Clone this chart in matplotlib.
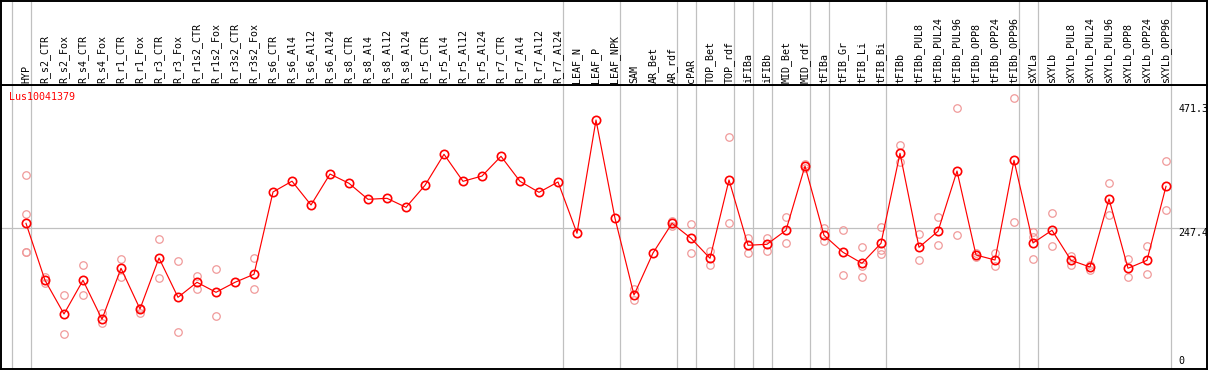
import matplotlib
matplotlib.use("Agg")
import matplotlib.pyplot as plt
import matplotlib.transforms as mtransforms

# ---------------- data ----------------
gene_name = "Lus10041379"

categories = [
    "HYP", "R_s2_CTR", "R_s2_Fox", "R_s4_CTR", "R_s4_Fox", "R_r1_CTR", "R_r1_Fox",
    "R_r3_CTR", "R_r3_Fox", "R_r1s2_CTR", "R_r1s2_Fox", "R_r3s2_CTR", "R_r3s2_Fox",
    "R_s6_CTR", "R_s6_Al4", "R_s6_Al12", "R_s6_Al24", "R_s8_CTR", "R_s8_Al4",
    "R_s8_Al12", "R_s8_Al24", "R_r5_CTR", "R_r5_Al4", "R_r5_Al12", "R_r5_Al24",
    "R_r7_CTR", "R_r7_Al4", "R_r7_Al12", "R_r7_Al24", "LEAF_N", "LEAF_P", "LEAF_NPK",
    "SAM", "AR_Bet", "AR_rdf", "cPAR", "TOP_Bet", "TOP_rdf", "iFIBa", "iFIBb",
    "MID_Bet", "MID_rdf", "tFIBa", "tFIB_Gr", "tFIB_Li", "tFIB_Bi", "tFIBb",
    "tFIBb_PUL8", "tFIBb_PUL24", "tFIBb_PUL96", "tFIBb_OPP8", "tFIBb_OPP24",
    "tFIBb_OPP96", "sXYLa", "sXYLb", "sXYLb_PUL8", "sXYLb_PUL24", "sXYLb_PUL96",
    "sXYLb_OPP8", "sXYLb_OPP24", "sXYLb_OPP96",
]

mean_values = [
    256.7, 154.2, 93.6, 154.2, 84.0, 175.8, 102.6, 194.3, 123.6, 150.6, 132.6,
    150.6, 165.0, 313.1, 332.5, 289.7, 345.4, 328.7, 299.9, 301.7, 285.5, 325.1,
    380.9, 332.3, 341.8, 377.3, 332.3, 312.5, 331.1, 238.8, 442.6, 265.7, 127.7,
    203.3, 256.7, 229.8, 193.8, 334.7, 217.2, 219.0, 244.2, 359.8, 235.2, 204.6,
    184.8, 220.8, 382.7, 213.6, 242.4, 350.8, 199.7, 190.7, 370.1, 221.3, 244.2,
    190.2, 178.1, 300.5, 175.8, 190.2, 323.3,
]

replicate_values = [
    [343.6, 273.0, 205.1, 205.1], [160.7, 148.8], [127.7, 57.6], [181.7, 127.7],
    [94.8, 76.8], [192.0, 159.6], [104.9, 95.9], [228.5, 157.8], [188.4, 61.2],
    [161.9, 139.1], [174.0, 90.0], [], [194.3, 138.0],
    [], [], [], [], [], [], [], [], [], [], [], [], [], [], [], [], [], [], [],
    [138.0, 118.7], [], [261.4, 252.0], [255.0, 203.3], [206.9, 182.3],
    [412.0, 256.7], [230.3, 202.8], [230.3, 206.4], [267.5, 220.8], [363.4, 355.7],
    [248.8, 224.4], [244.7, 163.2], [213.6, 179.9, 159.6], [249.6, 208.7, 201.5],
    [397.1, 367.6], [237.5, 190.2], [267.5, 217.2], [463.7, 235.2], [202.8, 195.6],
    [203.3, 179.4], [481.7, 258.5], [241.1, 232.6, 192.0], [274.7, 215.9],
    [198.5, 182.3], [182.3, 172.7], [328.7, 271.7], [192.9, 160.1], [215.3, 165.5],
    [368.8, 280.7],
]

# index (1-based) of last category in each group -> separator lines
group_ends = [0, 1, 29, 32, 35, 36, 38, 39, 40, 42, 43, 46, 53, 54, 61]

y_labels = [471.3, 247.4, 0]

# ---------------- style ----------------
W, H = 1209, 370
fig = plt.figure(figsize=(W / 100, H / 100), dpi=100)

px = 1 / W
py = 1 / H
ax_left_px, ax_right_px = 1, 1207
plot_top_px, plot_bot_px = 85, 369

ax = fig.add_axes([ax_left_px * px, (H - plot_bot_px) * py,
                   (ax_right_px - ax_left_px) * px, (plot_bot_px - plot_top_px) * py])
axh = fig.add_axes([ax_left_px * px, (H - plot_top_px) * py,
                    (ax_right_px - ax_left_px) * px, plot_top_px * py - 0.5 * py])

# x mapping: category i at pixel 26 + 19*i
x0_px, step_px = 26, 19
xlim = ((ax_left_px - x0_px) / step_px, (ax_right_px - x0_px) / step_px)
for a in (ax, axh):
    a.set_xlim(*xlim)
    a.set_xticks([])
    a.set_yticks([])
    for s in a.spines.values():
        s.set_color("black")
        s.set_linewidth(1.4)

# y mapping: value 0 at pixel 366, 0.5558 px per unit
scale = 0.5558
zero_px = 366
ax.set_ylim((zero_px - plot_bot_px) / scale, (zero_px - plot_top_px) / scale)
axh.set_ylim(0, 1)

gray = "#C0C0C0"
for k in group_ends:
    xs = k - 1 + 4.7 / step_px
    ax.axvline(xs, color=gray, lw=0.9, zorder=1)
    axh.axvline(xs, color=gray, lw=0.9, zorder=1)
ax.axhline(y_labels[1], color=gray, lw=0.9, zorder=1)

xs_idx = list(range(len(categories)))

# replicates
rx, ry = [], []
for i, reps in enumerate(replicate_values):
    for v in reps:
        rx.append(i)
        ry.append(v)
ax.plot(rx, ry, linestyle="none", marker="o", markersize=5.4,
        markerfacecolor="none", markeredgecolor="#F09A9A", markeredgewidth=0.9, zorder=2)

# mean line
ax.plot(xs_idx, mean_values, color="#FF0000", lw=0.85, zorder=3)
ax.plot(xs_idx, mean_values, linestyle="none", marker="o", markersize=6.0,
        markerfacecolor="none", markeredgecolor="#FF0000", markeredgewidth=1.2, zorder=4)

# header labels
mono = "DejaVu Sans Mono"
trans_h = mtransforms.blended_transform_factory(axh.transData, axh.transAxes)
for i, lab in enumerate(categories):
    axh.text(i, 2 / plot_top_px, lab, rotation=90, ha="center", va="bottom",
             fontsize=7.2, family=mono, color="black", transform=trans_h)

# gene name
fig.text(9 * px, 1 - 97 * py, gene_name, ha="left", va="center",
         fontsize=7.2, family=mono, color="#FF0000")

# right value labels (left-aligned near the right frame)
trans_r = mtransforms.blended_transform_factory(ax.transAxes, ax.transData)
lab_x = (1178.5 - ax_left_px) / (ax_right_px - ax_left_px)
for v in y_labels:
    ax.text(lab_x, v, f"{v:g}" if v == 0 else f"{v}",
            ha="left", va="bottom" if v == 0 else "top",
            fontsize=7.2, family=mono, color="black", transform=trans_r, zorder=5,
            clip_on=True)

fig.savefig("out.png", dpi=100)
